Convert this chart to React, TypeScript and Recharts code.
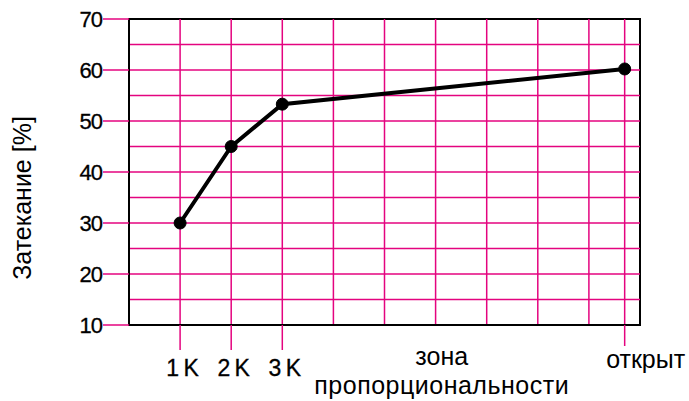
import React from 'react';
import {
  LineChart,
  Line,
  XAxis,
  YAxis,
  ReferenceLine,
  ReferenceArea,
  Label,
} from 'recharts';

// positions on the x axis (1 unit = one grid cell)
const positions = [1, 2, 3, 9.7];
const leakage = [30, 45, 53.3, 60.2];

const xTicks = [1, 2, 3, 6.1, 9.7];
const xTickLabels = ['1 K', '2 K', '3 K', 'зона пропорциональности', 'открыт'];
const yTicks = [10, 20, 30, 40, 50, 60, 70];

const gridX = [1, 2, 3, 4, 5, 6, 7, 8, 9, 9.7];
const gridY = [15, 20, 25, 30, 35, 40, 45, 50, 55, 60, 65];

const data = positions.map((x, i) => ({ x, y: leakage[i] }));

const PINK = '#e4047f';
const FONT = '"Liberation Sans", Arial, sans-serif';

const XTick = (props: any) => {
  const { x, y, payload } = props;
  const idx = xTicks.indexOf(payload.value);
  const label = xTickLabels[idx] ?? '';
  if (idx === 3) {
    const [a, b] = label.split(' ');
    return (
      <g fontFamily={FONT} fontSize={25} fill="#000">
        <text x={x + 1} y={y + 40} textAnchor="middle">{a}</text>
        <text x={x + 1} y={y + 69} textAnchor="middle" letterSpacing={0.5}>{b}</text>
      </g>
    );
  }
  const isOpen = idx === 4;
  return (
    <g fontFamily={FONT} fill="#000">
      <line x1={x} x2={x} y1={y} y2={y + (isOpen ? 21 : 25)} stroke={PINK} strokeWidth={1.5} />
      {isOpen ? (
        <text x={x + 21} y={y + 43} textAnchor="middle" fontSize={25}>{label}</text>
      ) : (
        <text
          x={x + 2}
          y={y + 51}
          textAnchor="middle"
          fontSize={23}
          letterSpacing={-1}
          stroke="#000"
          strokeWidth={0.3}
        >
          {label}
        </text>
      )}
    </g>
  );
};

export default function App() {
  return (
    <div style={{ position: 'absolute', left: 0, top: 0, background: '#fff' }}>
      <LineChart
        width={689}
        height={401}
        data={data}
        margin={{ top: 19, right: 49, left: 0, bottom: 0 }}
      >
        {gridY.map((v) => (
          <ReferenceLine key={'y' + v} y={v} stroke={PINK} strokeWidth={1.5} />
        ))}
        {gridX.map((v) => (
          <ReferenceLine key={'x' + v} x={v} stroke={PINK} strokeWidth={1.5} />
        ))}
        <ReferenceArea x1={0} x2={10} y1={10} y2={70} fill="none" stroke="#000" strokeWidth={2} />
        <XAxis
          dataKey="x"
          type="number"
          domain={[0, 10]}
          ticks={xTicks}
          interval={0}
          height={76}
          tickSize={0}
          tickMargin={0}
          tickLine={false}
          axisLine={{ stroke: '#000', strokeWidth: 2 }}
          tick={<XTick />}
        />
        <YAxis
          type="number"
          domain={[10, 70]}
          ticks={yTicks}
          interval={0}
          width={129}
          tickSize={26}
          tickMargin={1}
          tickLine={{ stroke: PINK, strokeWidth: 1.5 }}
          axisLine={{ stroke: '#000', strokeWidth: 2 }}
          tick={{ fill: '#000', fontSize: 22, fontFamily: FONT, letterSpacing: -1, stroke: '#000', strokeWidth: 0.3 }}
        >
          <Label
            content={() => (
              <text
                x={22}
                y={198}
                transform="rotate(-90 22 198)"
                textAnchor="middle"
                dominantBaseline="central"
                fontFamily={FONT}
                fontSize={25}
                fill="#000"
              >
                Затекание [%]
              </text>
            )}
          />
        </YAxis>
        <Line
          type="linear"
          dataKey="y"
          stroke="#000"
          strokeWidth={4}
          dot={{ r: 6, fill: '#000', stroke: '#000', strokeWidth: 1 }}
          isAnimationActive={false}
        />
      </LineChart>
    </div>
  );
}
